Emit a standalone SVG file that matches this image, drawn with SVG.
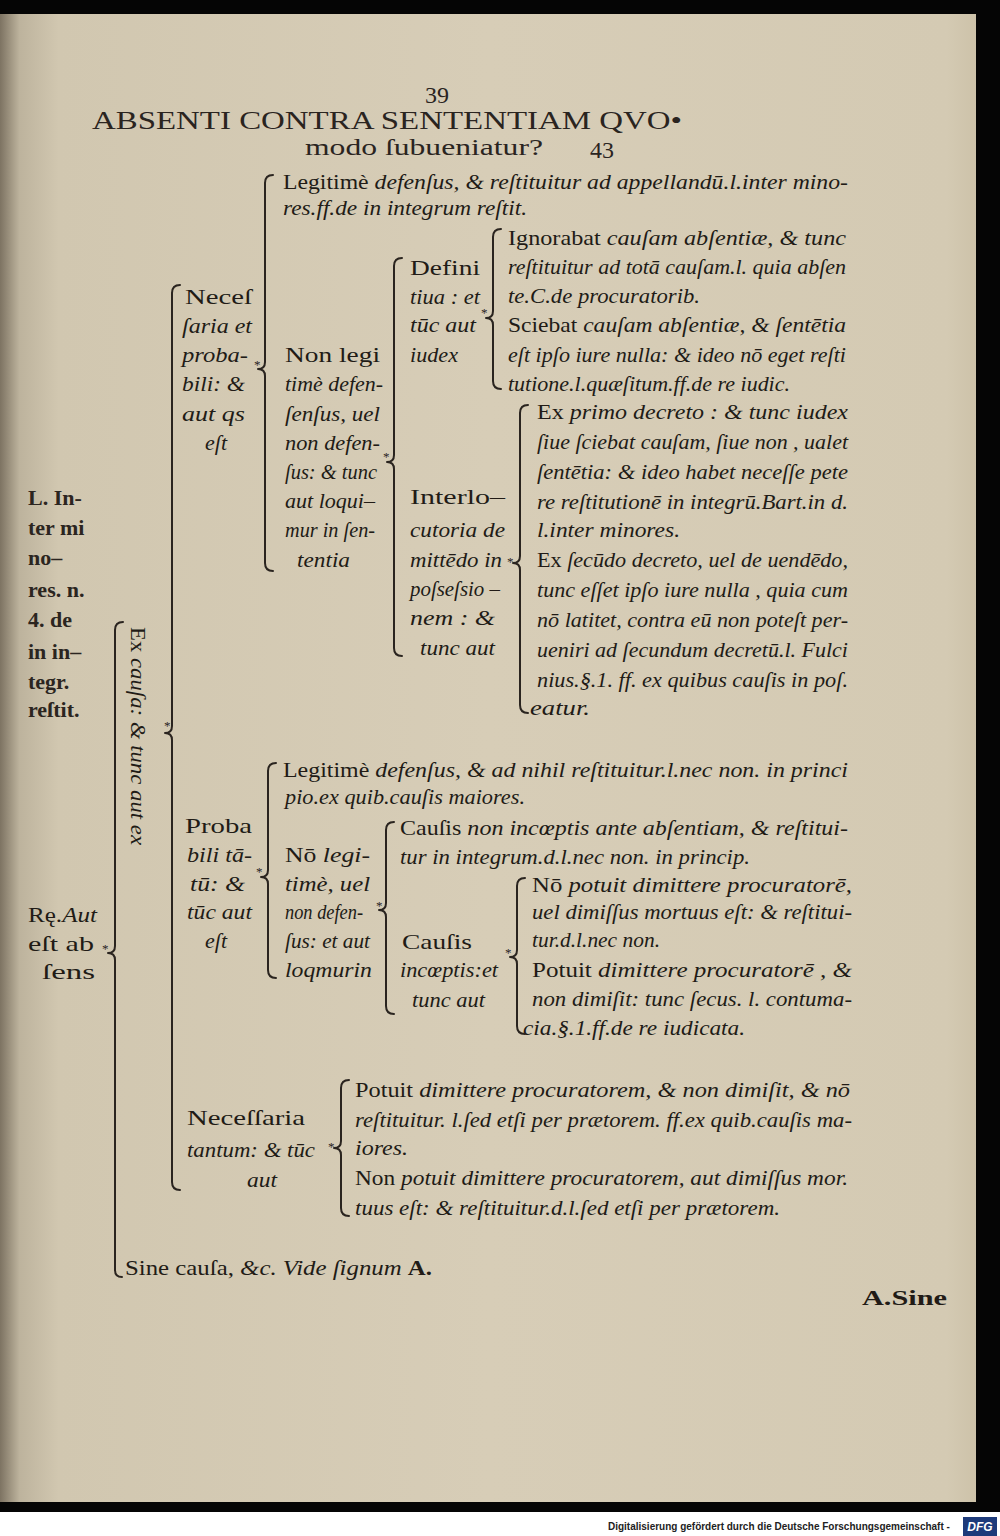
<svg xmlns="http://www.w3.org/2000/svg" width="1000" height="1536" viewBox="0 0 1000 1536">
<defs>
<linearGradient id="paper" x1="0" y1="0" x2="1" y2="0">
<stop offset="0" stop-color="#7d7362"/>
<stop offset="0.02" stop-color="#bdb39d"/>
<stop offset="0.06" stop-color="#d1c7b0"/>
<stop offset="0.5" stop-color="#d7cdb7"/>
<stop offset="0.97" stop-color="#d4cab3"/>
<stop offset="1" stop-color="#cdc2a9"/>
</linearGradient>
<style>
.t{font-family:"Liberation Serif","DejaVu Serif",serif;font-size:22px;fill:#211b16}
.i{font-style:italic}
.m{font-family:"Liberation Serif","DejaVu Serif",serif;font-size:22px;fill:#2b2520;font-weight:bold}
.h{font-family:"Liberation Serif","DejaVu Serif",serif;fill:#2a241f}
.br{fill:none;stroke:#2a241f;stroke-width:2;stroke-linecap:round;stroke-linejoin:round}
.st{font-family:"Liberation Serif",serif;font-size:13px;fill:#2a241f}
.ft{font-family:"Liberation Sans",Arial,sans-serif;font-size:11.5px;font-weight:bold;fill:#222}
</style>
</defs>
<rect x="0" y="0" width="1000" height="1512" fill="#050505"/>
<rect x="0" y="1512" width="1000" height="24" fill="#ffffff"/>
<rect x="0" y="14" width="976" height="1488" fill="url(#paper)"/>

<g id="header">
<text class="h" x="425" y="103" font-size="24">39</text>
<text class="h" x="92" y="129" font-size="26" textLength="590" lengthAdjust="spacingAndGlyphs">ABSENTI CONTRA SENTENTIAM QVO•</text>
<text class="h" x="305" y="155" font-size="24" textLength="238" lengthAdjust="spacingAndGlyphs">modo ſubueniatur?</text>
<text class="h" x="590" y="158" font-size="24">43</text>
</g>

<g id="n-root">
<text class="m" x="28" y="505">L. In-</text>
<text class="m" x="28" y="535">ter mi</text>
<text class="m" x="28" y="565">no–</text>
<text class="m" x="28" y="597">res. n.</text>
<text class="m" x="28" y="627">4. de</text>
<text class="m" x="28" y="659">in in–</text>
<text class="m" x="28" y="689">tegr.</text>
<text class="m" x="28" y="717">reſtit.</text>
<text class="t" x="28" y="922" textLength="69" lengthAdjust="spacingAndGlyphs">Rę.<tspan class="i">Aut</tspan></text>
<text class="t" x="28" y="951" textLength="66" lengthAdjust="spacingAndGlyphs">eſt ab</text>
<text class="t" x="42" y="979" textLength="53" lengthAdjust="spacingAndGlyphs">ſens</text>
</g>

<g id="n-excausa">
<text class="t" transform="translate(131,627) rotate(90)" x="0" y="0" textLength="218" lengthAdjust="spacingAndGlyphs">Ex <tspan class="i">cauſa: &amp; tunc aut ex</tspan></text>
</g>

<g id="n-necprob">
<text class="t" x="185" y="304" textLength="67" lengthAdjust="spacingAndGlyphs">Neceſ</text>
<text class="t i" x="182" y="333" textLength="70" lengthAdjust="spacingAndGlyphs">ſaria et</text>
<text class="t i" x="182" y="362" textLength="66" lengthAdjust="spacingAndGlyphs">proba-</text>
<text class="t i" x="182" y="391" textLength="63" lengthAdjust="spacingAndGlyphs">bili: &amp;</text>
<text class="t i" x="182" y="421" textLength="63" lengthAdjust="spacingAndGlyphs">aut qs</text>
<text class="t i" x="205" y="450">eſt</text>
</g>

<g id="n-legit1">
<text class="t" x="283" y="189" textLength="565" lengthAdjust="spacingAndGlyphs">Legitimè <tspan class="i">defenſus, &amp; reſtituitur ad appellandū.l.inter mino-</tspan></text>
<text class="t i" x="283" y="215" textLength="244" lengthAdjust="spacingAndGlyphs">res.ff.de in integrum reſtit.</text>
</g>

<g id="n-nonlegit1">
<text class="t" x="285" y="362" textLength="95" lengthAdjust="spacingAndGlyphs">Non legi</text>
<text class="t i" x="285" y="391" textLength="98" lengthAdjust="spacingAndGlyphs">timè defen-</text>
<text class="t i" x="285" y="421" textLength="95" lengthAdjust="spacingAndGlyphs">ſenſus, uel</text>
<text class="t i" x="285" y="450" textLength="95" lengthAdjust="spacingAndGlyphs">non defen-</text>
<text class="t i" x="285" y="479" textLength="92" lengthAdjust="spacingAndGlyphs">ſus: &amp; tunc</text>
<text class="t i" x="285" y="508" textLength="90" lengthAdjust="spacingAndGlyphs">aut loqui–</text>
<text class="t i" x="285" y="537" textLength="90" lengthAdjust="spacingAndGlyphs">mur in ſen-</text>
<text class="t i" x="297" y="567" textLength="53" lengthAdjust="spacingAndGlyphs">tentia</text>
</g>

<g id="n-definitiua">
<text class="t" x="410" y="275" textLength="70" lengthAdjust="spacingAndGlyphs">Defini</text>
<text class="t i" x="410" y="304" textLength="70" lengthAdjust="spacingAndGlyphs">tiua : et</text>
<text class="t i" x="410" y="332" textLength="66" lengthAdjust="spacingAndGlyphs">tūc aut</text>
<text class="t i" x="410" y="362" textLength="48" lengthAdjust="spacingAndGlyphs">iudex</text>
</g>

<g id="n-ignorabat">
<text class="t" x="508" y="245" textLength="338" lengthAdjust="spacingAndGlyphs">Ignorabat <tspan class="i">cauſam abſentiæ, &amp; tunc</tspan></text>
<text class="t i" x="508" y="274" textLength="338" lengthAdjust="spacingAndGlyphs">reſtituitur ad totā cauſam.l. quia abſen</text>
<text class="t i" x="508" y="303" textLength="192" lengthAdjust="spacingAndGlyphs">te.C.de procuratorib.</text>
</g>

<g id="n-sciebat">
<text class="t" x="508" y="332" textLength="338" lengthAdjust="spacingAndGlyphs">Sciebat <tspan class="i">cauſam abſentiæ, &amp; ſentētia</tspan></text>
<text class="t i" x="508" y="362" textLength="338" lengthAdjust="spacingAndGlyphs">eſt ipſo iure nulla: &amp; ideo nō eget reſti</text>
<text class="t i" x="508" y="391" textLength="282" lengthAdjust="spacingAndGlyphs">tutione.l.quæſitum.ff.de re iudic.</text>
</g>

<g id="n-interlocutoria">
<text class="t" x="410" y="504" textLength="95" lengthAdjust="spacingAndGlyphs">Interlo–</text>
<text class="t i" x="410" y="537" textLength="95" lengthAdjust="spacingAndGlyphs">cutoria de</text>
<text class="t i" x="410" y="567" textLength="92" lengthAdjust="spacingAndGlyphs">mittēdo in</text>
<text class="t i" x="410" y="596" textLength="90" lengthAdjust="spacingAndGlyphs">poſseſsio –</text>
<text class="t i" x="410" y="625" textLength="85" lengthAdjust="spacingAndGlyphs">nem : &amp;</text>
<text class="t i" x="420" y="655" textLength="75" lengthAdjust="spacingAndGlyphs">tunc aut</text>
</g>

<g id="n-exprimo">
<text class="t" x="537" y="419" textLength="311" lengthAdjust="spacingAndGlyphs">Ex <tspan class="i">primo decreto : &amp; tunc iudex</tspan></text>
<text class="t i" x="537" y="449" textLength="311" lengthAdjust="spacingAndGlyphs">ſiue ſciebat cauſam, ſiue non , ualet</text>
<text class="t i" x="537" y="479" textLength="311" lengthAdjust="spacingAndGlyphs">ſentētia: &amp; ideo habet neceſſe pete</text>
<text class="t i" x="537" y="509" textLength="311" lengthAdjust="spacingAndGlyphs">re reſtitutionē in integrū.Bart.in d.</text>
<text class="t i" x="537" y="537" textLength="143" lengthAdjust="spacingAndGlyphs">l.inter minores.</text>
</g>

<g id="n-exsecundo">
<text class="t" x="537" y="567" textLength="311" lengthAdjust="spacingAndGlyphs">Ex <tspan class="i">ſecūdo decreto, uel de uendēdo,</tspan></text>
<text class="t i" x="537" y="597" textLength="311" lengthAdjust="spacingAndGlyphs">tunc eſſet ipſo iure nulla , quia cum</text>
<text class="t i" x="537" y="627" textLength="311" lengthAdjust="spacingAndGlyphs">nō latitet, contra eū non poteſt per-</text>
<text class="t i" x="537" y="657" textLength="311" lengthAdjust="spacingAndGlyphs">ueniri ad ſecundum decretū.l. Fulci</text>
<text class="t i" x="537" y="687" textLength="311" lengthAdjust="spacingAndGlyphs">nius.§.1. ff. ex quibus cauſis in poſ.</text>
<text class="t i" x="530" y="715" textLength="60" lengthAdjust="spacingAndGlyphs">eatur.</text>
</g>

<g id="n-proba">
<text class="t" x="185" y="833" textLength="67" lengthAdjust="spacingAndGlyphs">Proba</text>
<text class="t i" x="187" y="862" textLength="65" lengthAdjust="spacingAndGlyphs">bili tā-</text>
<text class="t i" x="190" y="891" textLength="55" lengthAdjust="spacingAndGlyphs">tū: &amp;</text>
<text class="t i" x="187" y="919" textLength="65" lengthAdjust="spacingAndGlyphs">tūc aut</text>
<text class="t i" x="205" y="948">eſt</text>
</g>

<g id="n-legit2">
<text class="t" x="283" y="777" textLength="565" lengthAdjust="spacingAndGlyphs">Legitimè <tspan class="i">defenſus, &amp; ad nihil reſtituitur.l.nec non. in princi</tspan></text>
<text class="t i" x="285" y="804" textLength="240" lengthAdjust="spacingAndGlyphs">pio.ex quib.cauſis maiores.</text>
</g>

<g id="n-nonlegit2">
<text class="t" x="285" y="862" textLength="85" lengthAdjust="spacingAndGlyphs">Nō <tspan class="i">legi-</tspan></text>
<text class="t i" x="285" y="891" textLength="85" lengthAdjust="spacingAndGlyphs">timè, uel</text>
<text class="t i" x="285" y="919" font-size="20" textLength="78" lengthAdjust="spacingAndGlyphs">non defen-</text>
<text class="t i" x="285" y="948" textLength="85" lengthAdjust="spacingAndGlyphs">ſus: et aut</text>
<text class="t i" x="285" y="977" textLength="87" lengthAdjust="spacingAndGlyphs">loqmurin</text>
</g>

<g id="n-causisnon">
<text class="t" x="400" y="835" textLength="448" lengthAdjust="spacingAndGlyphs">Cauſis <tspan class="i">non incœptis ante abſentiam, &amp; reſtitui-</tspan></text>
<text class="t i" x="400" y="864" textLength="350" lengthAdjust="spacingAndGlyphs">tur in integrum.d.l.nec non. in princip.</text>
</g>

<g id="n-causisinc">
<text class="t" x="402" y="949" textLength="70" lengthAdjust="spacingAndGlyphs">Cauſis</text>
<text class="t i" x="400" y="977" textLength="98" lengthAdjust="spacingAndGlyphs">incœptis:et</text>
<text class="t i" x="412" y="1007" textLength="73" lengthAdjust="spacingAndGlyphs">tunc aut</text>
</g>

<g id="n-nopotuit">
<text class="t" x="532" y="892" textLength="320" lengthAdjust="spacingAndGlyphs">Nō <tspan class="i">potuit dimittere procuratorē,</tspan></text>
<text class="t i" x="532" y="919" textLength="320" lengthAdjust="spacingAndGlyphs">uel dimiſſus mortuus eſt: &amp; reſtitui-</text>
<text class="t i" x="532" y="947" textLength="128" lengthAdjust="spacingAndGlyphs">tur.d.l.nec non.</text>
</g>

<g id="n-potuit">
<text class="t" x="532" y="977" textLength="320" lengthAdjust="spacingAndGlyphs">Potuit <tspan class="i">dimittere procuratorē , &amp;</tspan></text>
<text class="t i" x="532" y="1006" textLength="320" lengthAdjust="spacingAndGlyphs">non dimiſit: tunc ſecus. l. contuma-</text>
<text class="t i" x="523" y="1035" textLength="222" lengthAdjust="spacingAndGlyphs">cia.§.1.ff.de re iudicata.</text>
</g>

<g id="n-necessaria">
<text class="t" x="187" y="1125" textLength="118" lengthAdjust="spacingAndGlyphs">Neceſſaria</text>
<text class="t i" x="187" y="1157" textLength="128" lengthAdjust="spacingAndGlyphs">tantum: &amp; tūc</text>
<text class="t i" x="247" y="1187" textLength="30" lengthAdjust="spacingAndGlyphs">aut</text>
</g>

<g id="n-potuit2">
<text class="t" x="355" y="1097" textLength="495" lengthAdjust="spacingAndGlyphs">Potuit <tspan class="i">dimittere procuratorem, &amp; non  dimiſit, &amp; nō</tspan></text>
<text class="t i" x="355" y="1127" textLength="497" lengthAdjust="spacingAndGlyphs">reſtituitur. l.ſed etſi per prætorem. ff.ex quib.cauſis ma-</text>
<text class="t i" x="355" y="1155" textLength="53" lengthAdjust="spacingAndGlyphs">iores.</text>
</g>

<g id="n-nonpotuit2">
<text class="t" x="355" y="1185" textLength="493" lengthAdjust="spacingAndGlyphs">Non <tspan class="i">potuit dimittere procuratorem, aut dimiſſus mor.</tspan></text>
<text class="t i" x="355" y="1215" textLength="425" lengthAdjust="spacingAndGlyphs">tuus eſt: &amp; reſtituitur.d.l.ſed etſi per prætorem.</text>
</g>

<g id="n-sine">
<text class="t" x="125" y="1275" textLength="307" lengthAdjust="spacingAndGlyphs">Sine cauſa, <tspan class="i">&amp;c. Vide ſignum</tspan> <tspan font-weight="bold">A.</tspan></text>
</g>

<g id="n-asine">
<text class="t" x="862" y="1305" font-weight="bold" textLength="85" lengthAdjust="spacingAndGlyphs">A.Sine</text>
</g>

<g id="connectors">
<path class="br" d="M123 622 Q115 622 115 630 V946 Q115 953 108 953 Q115 953 115 960 V1270 Q115 1277 122 1277"/>
<path class="br" d="M180 285 Q172 285 172 293 V726 Q172 733 165 733 Q172 733 172 740 V1182 Q172 1190 180 1190"/>
<path class="br" d="M273 175 Q265 175 265 183 V362 Q265 369 258 369 Q265 369 265 376 V563 Q265 571 273 571"/>
<path class="br" d="M402 258 Q394 258 394 266 V455 Q394 462 387 462 Q394 462 394 469 V648 Q394 656 402 656"/>
<path class="br" d="M501 229 Q493 229 493 237 V311 Q493 318 486 318 Q493 318 493 325 V381 Q493 389 501 389"/>
<path class="br" d="M528 405 Q520 405 520 413 V556 Q520 563 513 563 Q520 563 520 570 V705 Q520 713 528 713"/>
<path class="br" d="M276 763 Q268 763 268 771 V870 Q268 877 261 877 Q268 877 268 884 V970 Q268 978 276 978"/>
<path class="br" d="M394 822 Q386 822 386 830 V903 Q386 910 379 910 Q386 910 386 917 V1006 Q386 1014 394 1014"/>
<path class="br" d="M525 878 Q517 878 517 886 V950 Q517 957 510 957 Q517 957 517 964 V1026 Q517 1034 525 1034"/>
<path class="br" d="M349 1080 Q341 1080 341 1088 V1141 Q341 1148 334 1148 Q341 1148 341 1155 V1208 Q341 1216 349 1216"/>
<text class="st" x="102" y="953">*</text>
<text class="st" x="164" y="730">*</text>
<text class="st" x="254" y="369">*</text>
<text class="st" x="383" y="461">*</text>
<text class="st" x="481" y="317">*</text>
<text class="st" x="507" y="566">*</text>
<text class="st" x="256" y="876">*</text>
<text class="st" x="376" y="910">*</text>
<text class="st" x="505" y="957">*</text>
<text class="st" x="328" y="1151">*</text>
</g>

<g id="footer">
<text class="ft" transform="translate(608,1530) scale(0.777,1)" x="0" y="0" textLength="440" lengthAdjust="spacingAndGlyphs">Digitalisierung gefördert durch die Deutsche Forschungsgemeinschaft -</text>
<rect x="963" y="1517" width="34" height="19" fill="#1d3a7a"/>
<text x="980" y="1531" text-anchor="middle" font-family="Liberation Sans,Arial,sans-serif" font-size="12" font-weight="bold" font-style="italic" fill="#ffffff">DFG</text>
</g>
</svg>
